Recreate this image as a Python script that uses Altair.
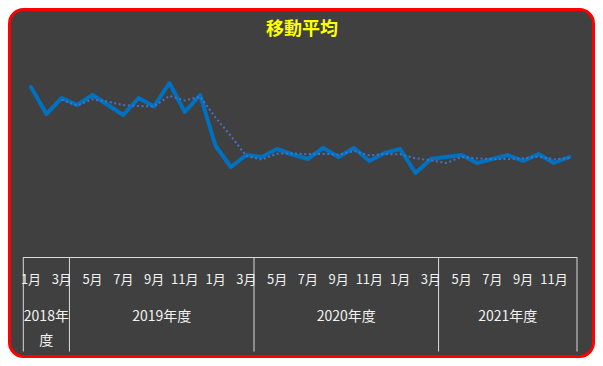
import altair as alt
import pandas as pd

# ---- data ----
chart_title = "移動平均"
months = [
    "1月", "2月", "3月",
    "4月", "5月", "6月", "7月", "8月", "9月", "10月", "11月", "12月", "1月", "2月", "3月",
    "4月", "5月", "6月", "7月", "8月", "9月", "10月", "11月", "12月", "1月", "2月", "3月",
    "4月", "5月", "6月", "7月", "8月", "9月", "10月", "11月", "12月",
]
values = [
    170, 143, 159,
    152, 162, 152, 142, 159, 150.5, 174, 145, 162, 111, 90, 102,
    100, 108, 102.5, 98, 109, 100, 109, 96, 104, 108, 84, 98,
    100, 102, 94, 98, 102, 96, 103, 94, 100,
]
fiscal_years = ["2018年度", "2019年度", "2020年度", "2021年度"]
year_month_counts = [3, 12, 12, 9]
ma_window = 3

FONT = "Noto Sans CJK JP"
TEXT_COLOR = "#F2F2F2"
GRID_COLOR = "#D9D9D9"

df = pd.DataFrame({"idx": list(range(len(values))), "month": months, "value": values})
df_lab = df[df["idx"] % 2 == 0]

starts, centers, line1, line2 = [], [], [], []
s = 0
for name, c in zip(fiscal_years, year_month_counts):
    starts.append(s - 0.5)
    centers.append(s + (c - 1) / 2)
    if c < 4:
        line1.append(name[:-1])
        line2.append(name[-1:])
    else:
        line1.append(name)
        line2.append("")
    s += c
bounds = starts + [s - 0.5]
df_years = pd.DataFrame({"center": centers, "l1": line1, "l2": line2})
df_bounds = pd.DataFrame({"pos": bounds})
df_h = pd.DataFrame({"a": [bounds[0]], "b": [bounds[-1]]})
df_title = pd.DataFrame({"t": [chart_title]})

X = alt.Scale(domain=[-0.5, len(values) - 0.5], range=[13.8, 567.5], nice=False, zero=False)
Y = alt.Scale(domain=[0, 200], range=[247.5, 47.5], nice=False, zero=False)

line = alt.Chart(df).mark_line(
    color="#0070C0", strokeWidth=4, strokeJoin="round", strokeCap="round"
).encode(
    x=alt.X("idx:Q", scale=X, axis=None),
    y=alt.Y("value:Q", scale=Y, axis=None),
)

ma = alt.Chart(df).transform_window(
    ma="mean(value)", frame=[-(ma_window - 1), 0], sort=[alt.SortField("idx")]
).transform_filter(
    f"datum.idx >= {ma_window - 1}"
).mark_line(
    color="#4472C4", strokeWidth=2, strokeDash=[2, 2.6]
).encode(
    x=alt.X("idx:Q", scale=X, axis=None),
    y=alt.Y("ma:Q", scale=Y, axis=None),
)

month_text = alt.Chart(df_lab).mark_text(
    color=TEXT_COLOR, fontSize=13, font=FONT, baseline="middle", align="center"
).encode(
    x=alt.X("idx:Q", scale=X, axis=None),
    y=alt.value(270.5),
    text="month:N",
)

year_text1 = alt.Chart(df_years).mark_text(
    color=TEXT_COLOR, fontSize=14, font=FONT, baseline="middle", align="center"
).encode(
    x=alt.X("center:Q", scale=X, axis=None),
    y=alt.value(307),
    text="l1:N",
)
year_text2 = alt.Chart(df_years).mark_text(
    color=TEXT_COLOR, fontSize=14, font=FONT, baseline="middle", align="center"
).encode(
    x=alt.X("center:Q", scale=X, axis=None),
    y=alt.value(331),
    text="l2:N",
)

hrule = alt.Chart(df_h).mark_rule(color=GRID_COLOR, strokeWidth=1).encode(
    x=alt.X("a:Q", scale=X, axis=None),
    x2="b:Q",
    y=alt.value(248),
)
vrules = alt.Chart(df_bounds).mark_rule(color=GRID_COLOR, strokeWidth=1).encode(
    x=alt.X("pos:Q", scale=X, axis=None),
    y=alt.value(247.5),
    y2=alt.value(342),
)

title = alt.Chart(df_title).mark_text(
    color="#FFFF00", fontSize=18, fontWeight="bold", font=FONT, baseline="middle", align="center"
).encode(
    x=alt.value(292.5),
    y=alt.value(20.5),
    text="t:N",
)

chart = alt.layer(
    hrule, vrules, line, ma, month_text, year_text1, year_text2, title
).properties(
    width=584, height=347, padding=1.5, autosize="none", background="white"
).configure_view(
    fill="#404040", stroke="#FF0000", strokeWidth=3, cornerRadius=14
)

chart.save("out.html", embed_options={"renderer": "svg", "actions": False})
